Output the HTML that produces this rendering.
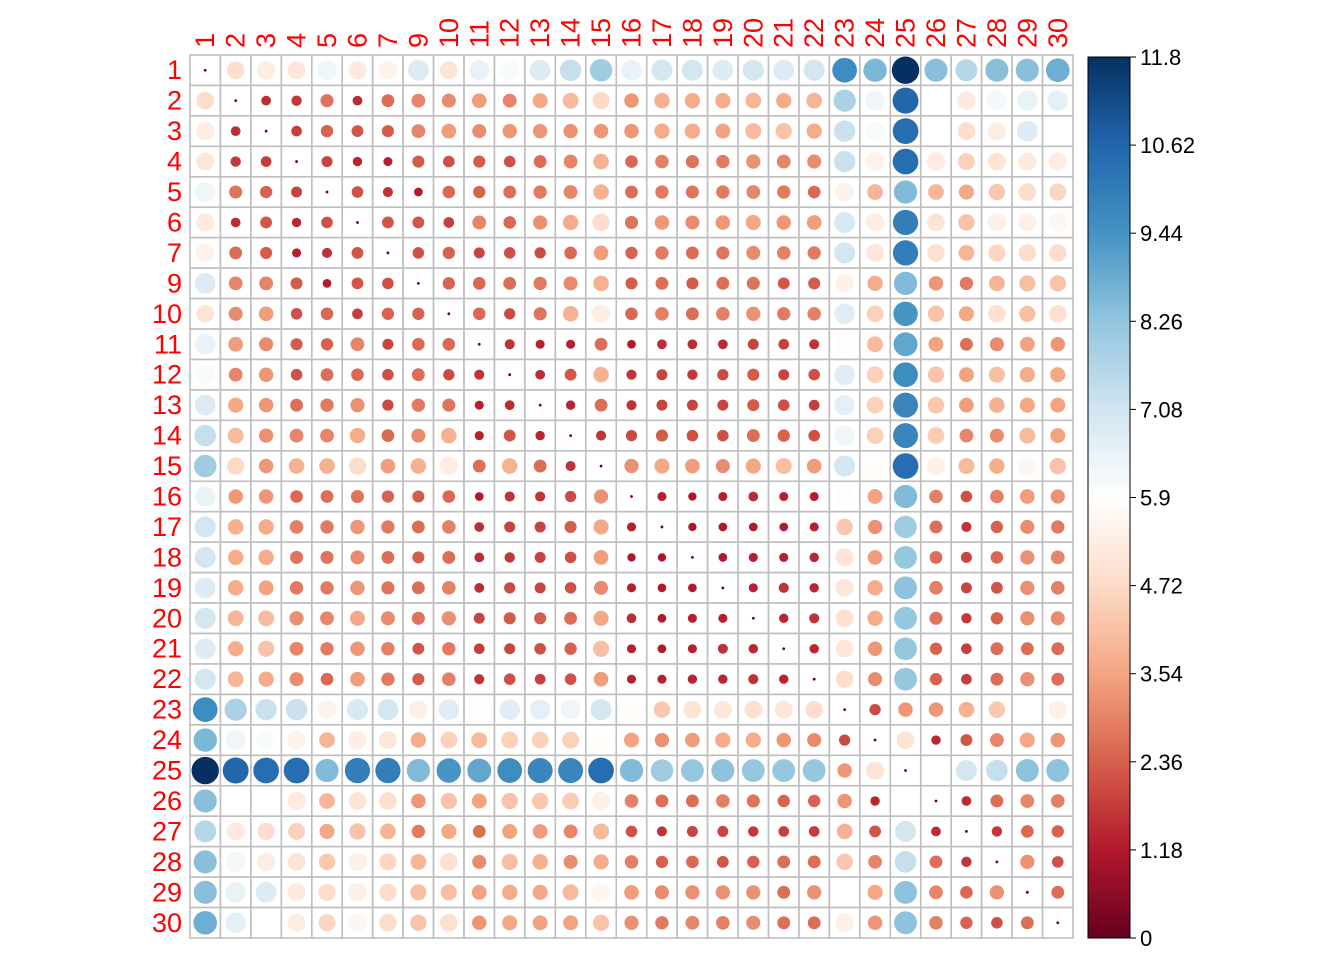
<!DOCTYPE html>
<html><head><meta charset="utf-8"><style>
html,body{margin:0;padding:0;background:#fff;}
svg{display:block;font-family:"Liberation Sans",sans-serif;}
</style></head><body>
<svg id="chart" width="1344" height="960" viewBox="0 0 1344 960" xmlns="http://www.w3.org/2000/svg">
<defs><linearGradient id="cbg" x1="0" y1="1" x2="0" y2="0">
<stop offset="0" stop-color="#67001F"/><stop offset="0.1" stop-color="#B2182B"/><stop offset="0.2" stop-color="#D6604D"/><stop offset="0.3" stop-color="#F4A582"/><stop offset="0.4" stop-color="#FDDBC7"/><stop offset="0.5" stop-color="#FFFFFF"/><stop offset="0.6" stop-color="#D1E5F0"/><stop offset="0.7" stop-color="#92C5DE"/><stop offset="0.8" stop-color="#4393C3"/><stop offset="0.9" stop-color="#2166AC"/><stop offset="1" stop-color="#053061"/>
</linearGradient></defs>
<g id="cells"></g>
<g id="labels"></g>
<g id="cbar"></g>
</svg>
<script>
const labels = ["1","2","3","4","5","6","7","9","10","11","12","13","14","15","16","17","18","19","20","21","22","23","24","25","26","27","28","29","30"];
const upperRows = [
[4.8,5.3,5.1,6.3,5.2,5.5,6.8,5.0,6.5,6.1,6.8,7.3,8.0,6.5,7.0,7.0,6.8,7.0,6.8,7.0,9.6,8.6,11.8,8.4,7.6,8.4,8.4,8.8],
[1.5,1.7,2.7,1.5,2.6,3.0,3.1,3.4,3.0,3.6,4.0,4.7,3.3,3.8,3.7,3.7,3.9,3.7,3.9,7.8,6.3,10.6,5.9,5.2,6.2,6.5,6.6],
[1.8,2.4,2.2,2.3,3.0,3.4,3.1,3.3,3.3,3.2,3.3,3.3,3.7,3.7,3.5,4.0,4.2,3.7,7.2,6.1,10.4,5.9,4.8,5.3,6.8,5.9],
[1.9,1.4,1.3,2.3,2.1,2.3,2.1,2.6,3.0,3.8,2.5,2.9,2.7,2.8,3.2,3.0,3.1,7.2,5.5,10.4,5.2,4.5,5.0,5.2,5.3],
[2.1,1.6,1.2,2.5,2.4,2.6,2.8,3.0,3.8,2.6,2.8,2.7,2.8,3.0,2.8,2.5,5.5,3.9,8.5,3.9,3.6,4.3,4.8,4.6],
[2.2,2.2,1.8,3.0,2.5,3.2,3.7,4.8,2.7,3.3,3.1,3.3,3.6,3.3,3.4,6.9,5.3,10.0,5.0,4.2,5.4,5.4,5.6],
[2.1,2.4,1.9,2.1,2.0,2.5,3.4,2.4,2.8,2.6,2.7,3.1,2.9,2.8,7.0,5.1,10.0,4.9,3.9,4.6,4.8,4.8],
[2.4,2.5,2.6,2.8,3.1,3.8,2.3,2.6,2.3,2.6,2.7,2.2,2.3,5.4,3.7,8.5,3.3,2.8,3.9,4.1,4.2],
[2.5,2.0,2.7,3.8,5.3,2.5,2.9,2.6,2.9,3.2,2.8,2.9,6.7,4.5,9.4,4.2,3.6,4.9,4.1,4.9],
[1.6,1.3,1.3,2.6,1.2,1.5,1.5,1.5,1.9,1.8,1.6,6.0,4.0,9.0,3.5,2.6,3.1,3.5,3.3],
[1.5,2.2,3.8,1.6,1.9,1.7,2.0,2.3,1.9,2.1,6.7,4.5,9.6,4.2,3.5,4.1,3.7,3.6],
[1.4,2.6,1.6,1.9,1.9,1.9,2.3,2.1,1.8,6.6,4.5,9.8,4.3,3.4,3.8,3.6,3.5],
[1.6,2.0,2.3,2.1,2.1,2.6,2.4,2.1,6.3,4.5,9.8,4.4,3.0,3.1,4.0,3.5],
[3.2,3.6,3.4,3.1,3.6,4.1,3.4,7.0,5.8,10.4,5.4,4.0,3.7,5.6,4.2],
[1.3,1.1,1.3,1.5,1.3,1.3,5.8,3.5,8.5,2.9,2.1,2.9,3.4,3.2],
[1.1,1.2,1.2,1.2,1.3,4.3,3.2,8.0,2.6,1.6,2.4,3.1,2.8],
[1.2,1.3,1.3,1.4,5.0,3.4,8.2,2.6,1.9,2.5,3.2,3.0],
[1.3,1.6,1.4,5.1,3.7,8.3,2.9,1.9,2.2,3.2,2.9],
[1.4,1.6,4.9,3.7,8.2,2.7,1.7,2.4,3.2,3.1],
[1.4,5.1,3.3,8.2,2.4,1.8,2.6,2.6,2.6],
[4.8,3.1,8.2,2.4,1.8,2.6,3.2,2.6],
[2.0,3.3,3.3,3.8,4.3,5.9,5.4],
[5.0,1.4,2.2,3.0,3.6,3.3],
[5.9,7.0,7.3,8.3,8.3],
[1.5,2.6,3.0,2.9],
[1.7,2.5,2.4],
[3.2,2.1],
[2.6]
];
const colorTicks = ["0","1.18","2.36","3.54","4.72","5.9","7.08","8.26","9.44","10.62","11.8"];
const vmin = 0, vmax = 11.8;

const NS="http://www.w3.org/2000/svg";
const n = labels.length;
const X0=190, Y0=55, X1=1073, Y1=938, cs=(X1-X0)/n;
const xPos = i => X0 + cs*(i+0.5);
const yPos = i => Y0 + cs*(i+0.5);
const stops=["#67001F","#B2182B","#D6604D","#F4A582","#FDDBC7","#FFFFFF","#D1E5F0","#92C5DE","#4393C3","#2166AC","#053061"];
function hex(h){return [1,3,5].map(k=>parseInt(h.substr(k,2),16));}
function color(v){
  let t=(v-vmin)/(vmax-vmin)*10; t=Math.max(0,Math.min(10,t));
  const i=Math.min(9,Math.floor(t)), f=t-i, a=hex(stops[i]), b=hex(stops[i+1]);
  return "rgb("+a.map((c,k)=>Math.round(c+(b[k]-c)*f)).join(",")+")";
}
function mk(tag,attrs,parent){const e=document.createElementNS(NS,tag);for(const k in attrs)e.setAttribute(k,attrs[k]);parent.appendChild(e);return e;}
// full matrix
const M=[];
for(let i=0;i<n;i++){M.push(new Array(n).fill(0));}
for(let i=0;i<n;i++){for(let j=i+1;j<n;j++){const v=upperRows[i][j-i-1];M[i][j]=v;M[j][i]=v;}}

const cells=document.getElementById("cells");
for(let i=0;i<n;i++){for(let j=0;j<n;j++){
  const r=mk("rect",{x:X0+cs*j,y:Y0+cs*i,width:cs,height:cs,fill:"#fff",stroke:"#bebebe","stroke-width":1.6},cells);
  
  
}}
for(let i=0;i<n;i++){for(let j=0;j<n;j++){
  const v=M[i][j];
  const rad=Math.max(1.4,0.45*cs*Math.sqrt(Math.abs(v)/vmax));
  const c=mk("circle",{cx:xPos(j),cy:yPos(i),r:rad,fill:color(v)},cells);
  
  
}}
const lg=document.getElementById("labels");
labels.forEach((l,i)=>{
  const t=mk("text",{x:182,y:yPos(i)+9,"text-anchor":"end","font-size":27,fill:"#ff0000"},lg);
  t.textContent=l;
  
  
  const t2=mk("text",{x:0,y:0,"font-size":27,fill:"#ff0000",transform:"translate("+(xPos(i)+9)+",48) rotate(-90)"},lg);
  t2.textContent=l;
  
  
});
const cb=document.getElementById("cbar");
const CBX=1088,CBW=42,CBT=57,CBB=938;
const bar=mk("rect",{x:CBX,y:CBT,width:CBW,height:CBB-CBT,fill:"url(#cbg)",stroke:"#000","stroke-width":1},cb);


colorTicks.forEach((s,k)=>{
  const y=CBB-(parseFloat(s)-vmin)/(vmax-vmin)*(CBB-CBT);
  const ln=mk("line",{x1:CBX+CBW,x2:CBX+CBW+6,y1:y,y2:y,stroke:"#000","stroke-width":1},cb);
  
  
  const t=mk("text",{x:CBX+CBW+10,y:y+8,"font-size":22,fill:"#000"},cb);
  t.textContent=s;
  
  
});
</script>
</body></html>
